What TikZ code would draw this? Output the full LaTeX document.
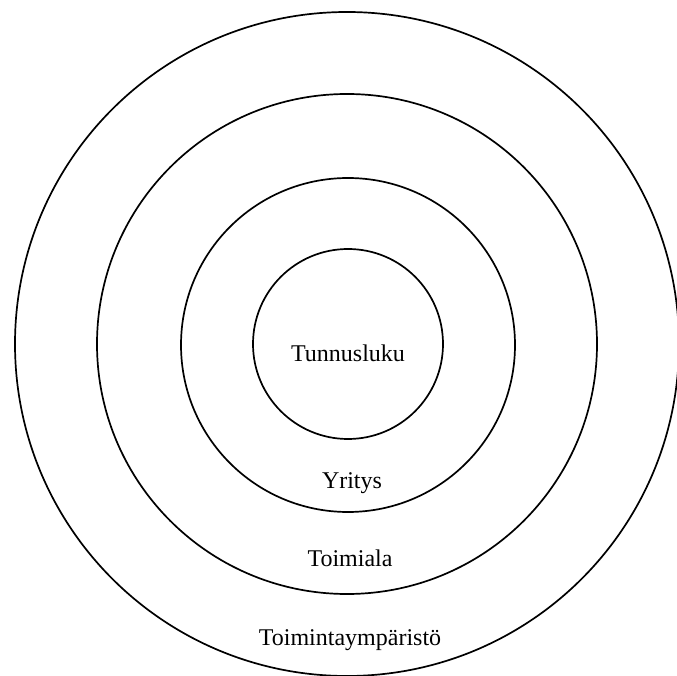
\documentclass[tikz,border=0pt]{standalone}
\usepackage{fontspec}
\setmainfont{Liberation Serif}
\begin{document}
\begin{tikzpicture}[x=1pt,y=1pt,
  ring/.style={draw=black,line width=1.7pt,circle,inner sep=0pt},
  lbl/.style={font=\fontsize{24}{28}\selectfont,inner sep=0pt}]
\useasboundingbox (0,0) rectangle (677,675);
\node[ring,minimum size=664pt] (outer) at (347,331) {};
\node[ring,minimum size=500pt] (ring2) at (347,331) {};
\node[ring,minimum size=334pt] (ring3) at (348,330) {};
\node[ring,minimum size=190pt] (inner) at (348,331) {};
\node[lbl] (t1) at (348,322) {Tunnusluku};
\node[lbl] (t2) at (352,192) {Yritys};
\node[lbl] (t3) at (350,117) {Toimiala};
\node[lbl] (t4) at (350,35) {Toimintaympäristö};
\end{tikzpicture}
\end{document}
